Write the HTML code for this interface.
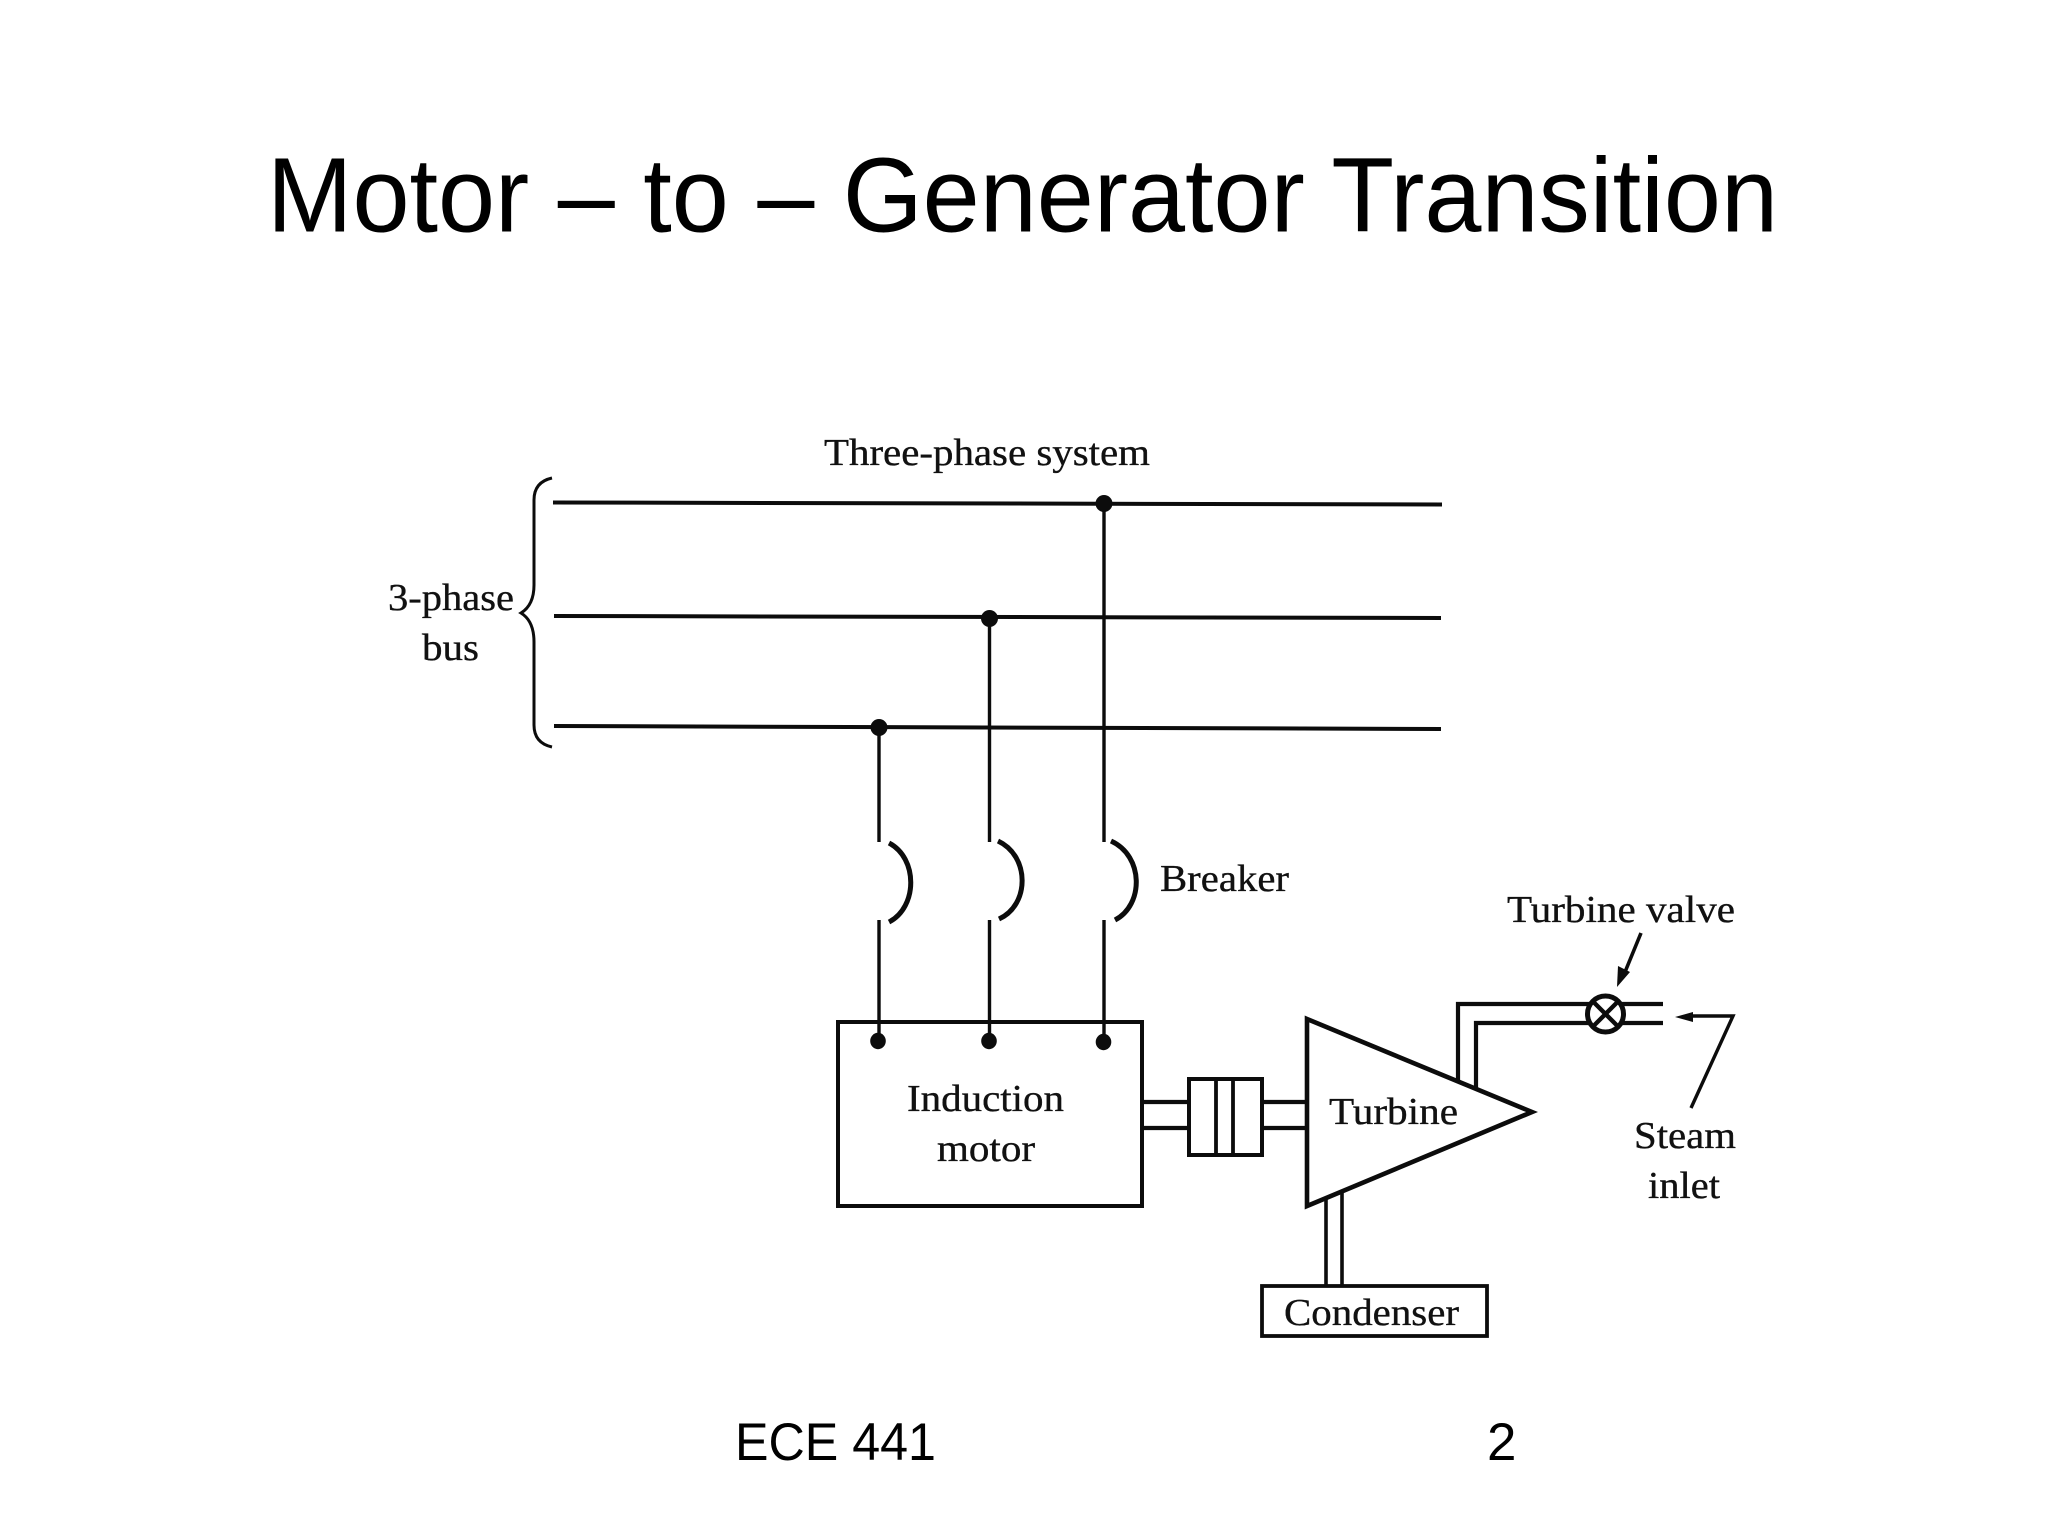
<!DOCTYPE html>
<html><head><meta charset="utf-8"><title>Motor – to – Generator Transition</title>
<style>html,body{margin:0;padding:0;background:#fff;width:2048px;height:1536px;overflow:hidden}svg{display:block}
.s{font-family:"Liberation Serif",serif;font-size:38px;fill:#111;stroke:#111;stroke-width:.35}
.a{font-family:"Liberation Sans",sans-serif;fill:#000}
.l{fill:none;stroke:#0c0c0c;stroke-linecap:butt;stroke-linejoin:miter}
</style></head><body>
<svg width="2048" height="1536" viewBox="0 0 2048 1536" xmlns="http://www.w3.org/2000/svg">
<rect width="2048" height="1536" fill="#fff"/>
<text class="a" x="267" y="231.5" font-size="105.8" textLength="1511" lengthAdjust="spacingAndGlyphs">Motor – to – Generator Transition</text>
<text class="a" x="735" y="1460" font-size="52.9" textLength="201" lengthAdjust="spacingAndGlyphs">ECE 441</text>
<text class="a" x="1487" y="1460" font-size="52.9">2</text>

<text class="s" x="824" y="465" textLength="326" lengthAdjust="spacingAndGlyphs">Three-phase system</text>
<text class="s" x="388" y="610" textLength="126" lengthAdjust="spacingAndGlyphs">3-phase</text>
<text class="s" x="422" y="660" textLength="57" lengthAdjust="spacingAndGlyphs">bus</text>
<text class="s" x="1160" y="891" textLength="129" lengthAdjust="spacingAndGlyphs">Breaker</text>
<text class="s" x="1507" y="922" textLength="228" lengthAdjust="spacingAndGlyphs">Turbine valve</text>
<text class="s" x="907" y="1111" textLength="157" lengthAdjust="spacingAndGlyphs">Induction</text>
<text class="s" x="937" y="1161" textLength="98" lengthAdjust="spacingAndGlyphs">motor</text>
<text class="s" x="1329" y="1124" textLength="129" lengthAdjust="spacingAndGlyphs">Turbine</text>
<text class="s" x="1634" y="1148" textLength="102" lengthAdjust="spacingAndGlyphs">Steam</text>
<text class="s" x="1648" y="1198" textLength="72" lengthAdjust="spacingAndGlyphs">inlet</text>
<text class="s" x="1284" y="1325" textLength="175" lengthAdjust="spacingAndGlyphs">Condenser</text>

<!-- brace -->
<path class="l" stroke-width="3" d="M552 478 Q534 482 534 500 L534 585 Q534 605 521 613 Q534 621 534 642 L534 725 Q534 743 552 747"/>
<!-- buses -->
<path class="l" stroke-width="4" d="M553 502.5 L1442 504.5 M554 616 L1441 618 M554 726 L1441 729"/>
<!-- verticals -->
<path class="l" stroke-width="3.4" d="M1104 503 V842 M1104 920 V1041 M989.5 618 V842 M989.5 920 V1041 M879 727 V842 M879 920 V1041"/>
<!-- bus and motor dots -->
<g fill="#0c0c0c">
<ellipse cx="1104" cy="503.5" rx="8.5" ry="8.5"/><ellipse cx="989.5" cy="618.5" rx="8.5" ry="8.5"/><ellipse cx="879" cy="727.5" rx="8.5" ry="8.5"/>
<ellipse cx="878" cy="1041" rx="7.8" ry="8.2"/><ellipse cx="989" cy="1041" rx="7.8" ry="8.2"/><ellipse cx="1103.5" cy="1042" rx="7.8" ry="8.2"/>
</g>
<!-- breakers -->
<path class="l" stroke-width="5" d="M889 843 C918 858 918 907 889 922 M998 841 C1030 856 1030 905 999 919 M1111 841 C1144 856 1144 905 1115 920"/>
<!-- motor -->
<rect class="l" stroke-width="4" x="838" y="1022" width="304" height="184"/>
<!-- shaft and coupling -->
<path class="l" stroke-width="4.2" d="M1142 1102 H1189 M1142 1128 H1189 M1262 1102 H1307 M1262 1128 H1307"/>
<rect class="l" stroke-width="4" x="1189" y="1079" width="73" height="76"/>
<path class="l" stroke-width="3.8" d="M1216 1079 V1155 M1233 1079 V1155"/>
<!-- turbine -->
<path class="l" stroke-width="4.6" d="M1307 1019 L1532 1112 L1307 1206 Z"/>
<!-- steam pipe -->
<path class="l" stroke-width="4.2" d="M1458 1081 V1004 H1663 M1476 1088 V1023 H1663"/>
<!-- valve -->
<circle cx="1605.5" cy="1014" r="18" fill="#fff" stroke="#0c0c0c" stroke-width="5"/>
<path class="l" stroke-width="4.4" d="M1593.5 1002 L1617.5 1026 M1617.5 1002 L1593.5 1026"/>
<!-- arrows -->
<path class="l" stroke-width="3.6" d="M1641 933 L1625 972"/>
<path fill="#0c0c0c" d="M1617 987 L1618 966 L1630 972 Z"/>
<path class="l" stroke-width="3.4" d="M1691 1108 L1733 1016 H1690"/>
<path fill="#0c0c0c" d="M1675 1017 L1693 1012 L1693 1022 Z"/>
<!-- condenser -->
<path class="l" stroke-width="3.6" d="M1326 1198 V1286 M1342 1191 V1286"/>
<rect class="l" stroke-width="3.8" x="1262" y="1286" width="225" height="50"/>
</svg>
</body></html>
